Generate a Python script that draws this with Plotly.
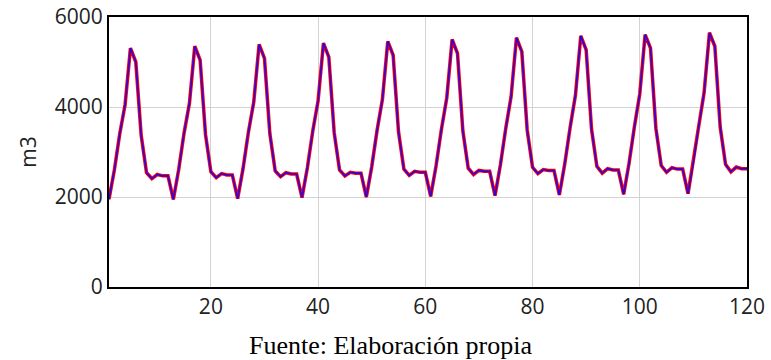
import plotly.graph_objects as go

x_vals = list(range(1, 121))

# m3 values (period of 12 months, 10 cycles)
serie_a = [
    1950, 2600, 3400, 4050, 5310, 5000, 3370, 2540, 2410, 2500, 2470, 2470,
    1945, 2610, 3420, 4080, 5350, 5040, 3390, 2560, 2430, 2520, 2490, 2490,
    1965, 2630, 3440, 4110, 5390, 5080, 3410, 2580, 2450, 2540, 2510, 2510,
    1985, 2650, 3460, 4140, 5420, 5110, 3430, 2600, 2470, 2550, 2530, 2530,
    2000, 2670, 3480, 4170, 5460, 5150, 3450, 2620, 2480, 2570, 2550, 2550,
    2015, 2690, 3500, 4200, 5500, 5190, 3470, 2640, 2500, 2590, 2570, 2570,
    2030, 2710, 3520, 4230, 5540, 5230, 3490, 2660, 2520, 2610, 2590, 2590,
    2045, 2730, 3540, 4260, 5580, 5270, 3510, 2680, 2530, 2630, 2600, 2600,
    2060, 2750, 3560, 4290, 5610, 5310, 3530, 2700, 2550, 2650, 2620, 2620,
    2075, 2770, 3580, 4320, 5650, 5350, 3555, 2725, 2560, 2665, 2630, 2630,
]
serie_b = list(serie_a)

x_ticks = [20, 40, 60, 80, 100, 120]
y_ticks = [0, 2000, 4000, 6000]

fig = go.Figure()
fig.add_trace(go.Scatter(x=x_vals, y=serie_a, mode="lines",
                         line=dict(color="#ff0000", width=3.5), showlegend=False))
fig.add_trace(go.Scatter(x=x_vals, y=serie_b, mode="lines",
                         line=dict(color="#2a00e0", width=1.6), showlegend=False))

axis_font = dict(family="Open Sans, sans-serif", size=21, color="#222222")

fig.update_layout(
    width=771, height=360,
    margin=dict(l=109, r=24, t=17, b=73, autoexpand=False),
    plot_bgcolor="white", paper_bgcolor="white",
    xaxis=dict(range=[1, 120], tickvals=x_ticks, ticktext=[str(v) for v in x_ticks],
               showgrid=True, gridcolor="#d3d3d3", gridwidth=1,
               showline=True, linecolor="black", linewidth=2, mirror=True,
               zeroline=False, ticks="", tickfont=axis_font, automargin=False),
    yaxis=dict(range=[0, 6000], tickvals=y_ticks, ticktext=[str(v) for v in y_ticks],
               showgrid=True, gridcolor="#d3d3d3", gridwidth=1,
               showline=True, linecolor="black", linewidth=2, mirror=True,
               zeroline=False, ticks="", tickfont=axis_font, automargin=False,
               title=dict(text="m3", font=axis_font, standoff=12)),
    annotations=[dict(text="Fuente: Elaboración propia", xref="paper", yref="paper",
                      x=0.442, y=-0.215, xanchor="center", yanchor="middle", showarrow=False,
                      font=dict(family="Liberation Serif, Times New Roman, serif",
                                size=26, color="black"))],
)

fig.write_html("out.html")
